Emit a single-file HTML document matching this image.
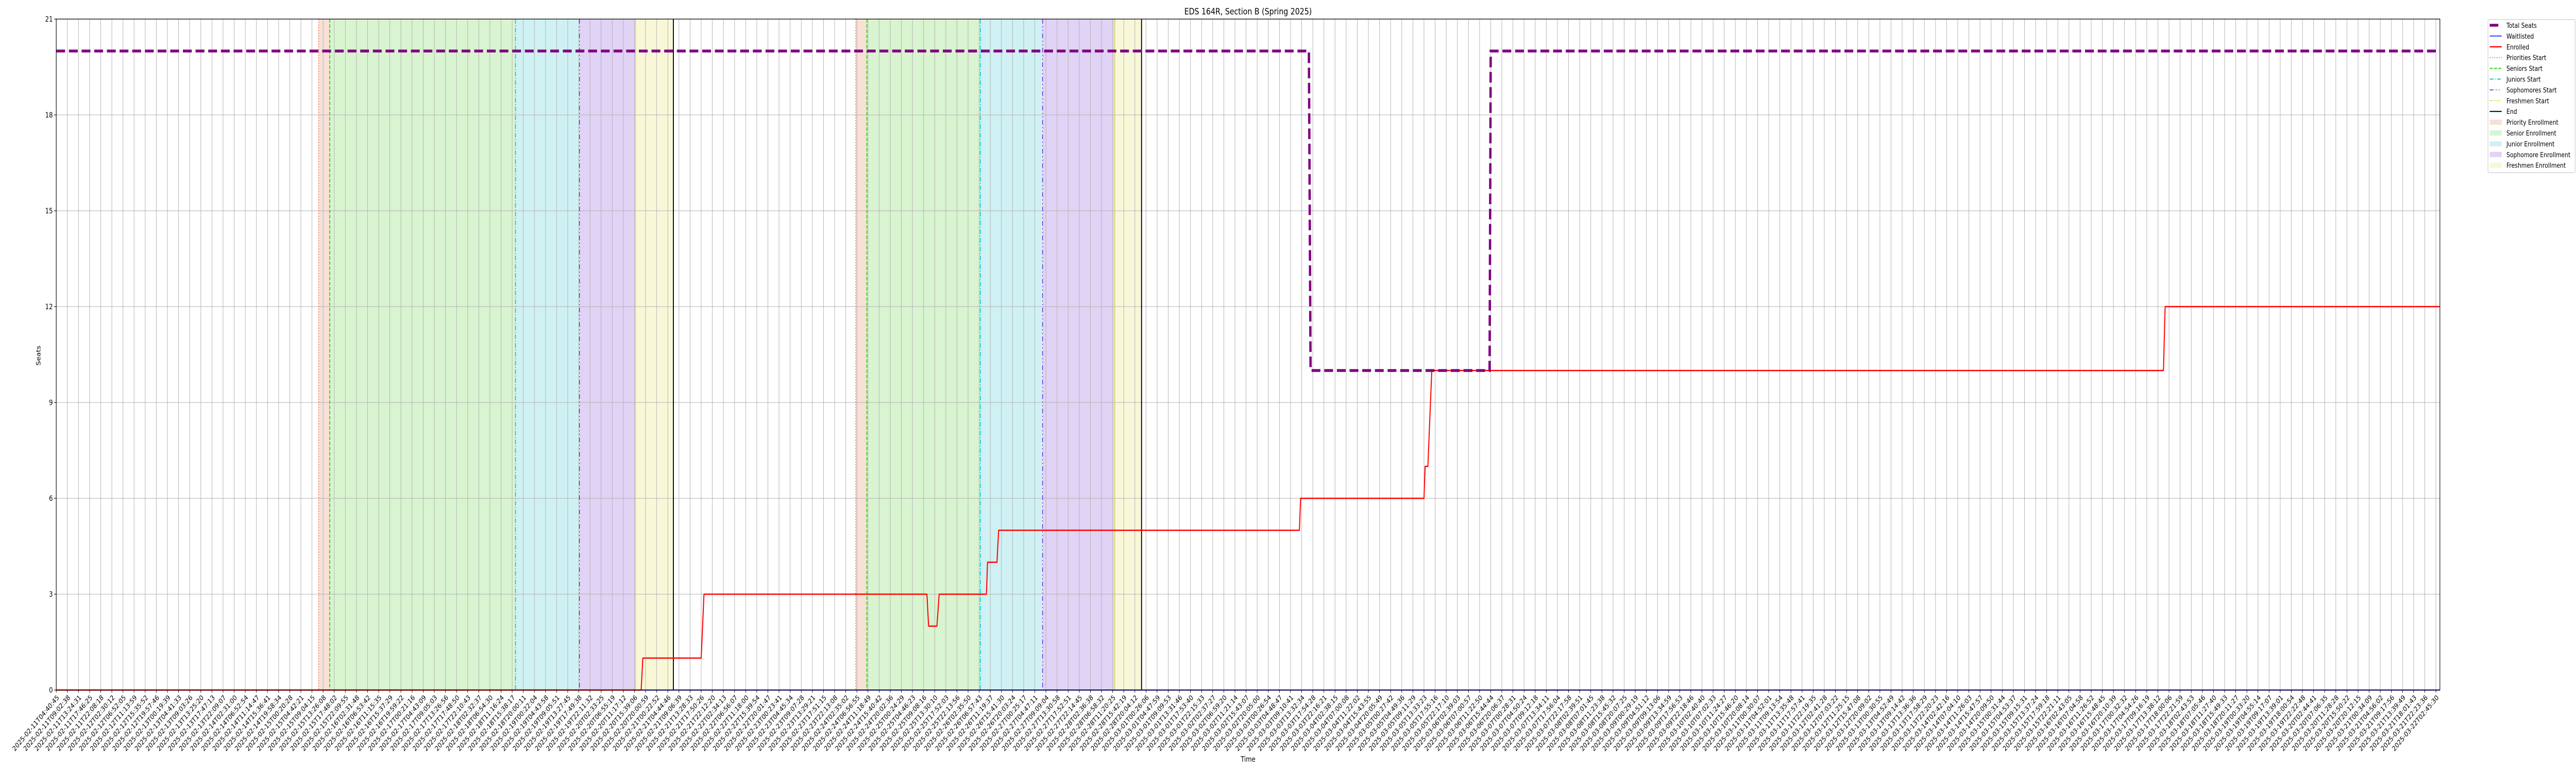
<!DOCTYPE html>
<html><head><meta charset="utf-8"><style>
html,body{margin:0;padding:0;background:#fff;width:100vw;height:100vh;overflow:hidden;}
svg{display:block;font-family:"DejaVu Sans","Liberation Sans",sans-serif;overflow:hidden;width:100vw;height:100vh;}
</style></head><body>
<svg id="chart" viewBox="0 0 6000 1500" preserveAspectRatio="none" xmlns="http://www.w3.org/2000/svg">
<text x="2907" y="28" font-size="17" text-anchor="middle" fill="#000">EDS 164R, Section B (Spring 2025)</text>
<text x="0" y="0" font-size="14" text-anchor="middle" transform="translate(94,690) rotate(-90)">Seats</text>
<text x="2907" y="1478" font-size="14" text-anchor="middle">Time</text>
<g id="shades"></g><g id="grid"></g><g id="phaselines"></g><g id="series"></g><g id="axes"></g><g id="legend"></g>
</svg>
<script>
// ---- data ----
const tickStart = Date.UTC(2025,1,11,4,40,45);
const tickEnd = Date.UTC(2025,2,22,2,45,30);
const tickCount = 215;
const yTicks = [0,3,6,9,12,15,18,21];
const prioStart = [23.6, 71.9];
const seniorStart = [24.6, 72.9];
const juniorStart = [41.3, 83.1];
const sophStart = [47.05, 88.7];
const freshStart = [52.1, 95.2];
const endTimes = [55.5, 97.6];
const seatsX = [0, 112.65, 112.8, 128.9, 129.0, 214.36];
const seatsY = [20, 20, 10, 10, 20, 20];
const waitX = [0, 214.36];
const waitY = [0, 0];
const enrolledX = [0,52.6,52.75,58.0,58.25,78.3,78.45,79.2,79.4,83.65,83.75,84.6,84.75,111.8,111.9,123.0,123.1,123.35,123.7,189.5,189.65,214.36];
const enrolledY = [0,0,1,1,3,3,2,2,3,3,4,4,5,5,6,6,7,7,10,10,12,12];

// ---- scales ----
const L=131,R=5683,T=37,B=1339,XMAX=214.36,YMAX=21;
const sx=v=>L+(R-L)*v/XMAX;
const sy=v=>B-(B-T)*v/YMAX;
const NS='http://www.w3.org/2000/svg';
function mk(tag,attrs,parent){const e=document.createElementNS(NS,tag);for(const k in attrs)e.setAttribute(k,attrs[k]);parent.appendChild(e);return e;}
const pad=n=>String(n).padStart(2,'0');
function fmt(ms){const d=new Date(ms);return d.getUTCFullYear()+'-'+pad(d.getUTCMonth()+1)+'-'+pad(d.getUTCDate())+'T'+pad(d.getUTCHours())+':'+pad(d.getUTCMinutes())+':'+pad(d.getUTCSeconds());}
const tickLabels=[];
for(let i=0;i<tickCount;i++)tickLabels.push(fmt(tickStart+(tickEnd-tickStart)*i/(tickCount-1)));

const gS=document.getElementById('shades'),gG=document.getElementById('grid'),gP=document.getElementById('phaselines'),gSe=document.getElementById('series'),gA=document.getElementById('axes'),gL=document.getElementById('legend');

// shades
const shadeDefs=[[prioStart,seniorStart,'#f7e0d6','priority-enrollment-shade'],[seniorStart,juniorStart,'#d9f4d0','senior-enrollment-shade'],[juniorStart,sophStart,'#cff1f3','junior-enrollment-shade'],[sophStart,freshStart,'#e0d3f5','sophomore-enrollment-shade'],[freshStart,endTimes,'#f8f8d9','freshmen-enrollment-shade']];
shadeDefs.forEach(d=>{for(let k=0;k<d[0].length;k++){
  const r=mk('rect',{x:sx(d[0][k]),y:T,width:sx(d[1][k])-sx(d[0][k]),height:B-T,fill:d[2]},gS);
  
  
}});
// grid
tickLabels.forEach((lab,i)=>{
  const x=sx(i);
  const g=mk('line',{x1:x,x2:x,y1:T,y2:B,stroke:'#b0b0b0','stroke-width':1.1},gG);
  
  
  const tk=mk('line',{x1:x,x2:x,y1:B,y2:B+5,stroke:'#000','stroke-width':1.1},gA);
  
  
  const t=mk('text',{x:x+4,y:B+12,'font-size':13.5,'text-anchor':'end','dominant-baseline':'central',transform:'rotate(-45 '+(x+4)+' '+(B+12)+')'},gA);
  t.textContent=lab;
  
  
});
yTicks.forEach(v=>{
  const y=sy(v);
  const g=mk('line',{x1:L,x2:R,y1:y,y2:y,stroke:'#b0b0b0','stroke-width':1.1},gG);
  
  
  const tk=mk('line',{x1:L-5,x2:L,y1:y,y2:y,stroke:'#000','stroke-width':1.1},gA);
  
  
  const t=mk('text',{x:L-8,y:y+5,'font-size':14,'text-anchor':'end'},gA);
  t.textContent=v;
  
  
});
// phase lines
const lineDefs=[[prioStart,'#f05a28','2,3.3',1.6,'priorities-start-line'],[seniorStart,'#33cc11','7,3',2,'seniors-start-line'],[juniorStart,'#11c8d8','9,3,2,3',2,'juniors-start-line'],[sophStart,'#6622dd','9,5,2,5,2,5',1.6,'sophomores-start-line'],[freshStart,'#dddd33','none',1.6,'freshmen-start-line'],[endTimes,'#000','none',2.2,'end-line']];
lineDefs.forEach(d=>{d[0].forEach(v=>{
  const x=sx(v);
  const l=mk('line',{x1:x,x2:x,y1:T,y2:B,stroke:d[1],'stroke-width':d[3],'stroke-dasharray':d[2]},gP);
  
  
});});
// series
function pts(xs,ys){return xs.map((x,i)=>sx(x)+','+sy(ys[i])).join(' ');}
const pw=mk('polyline',{points:pts(waitX,waitY),fill:'none',stroke:'#0000ff','stroke-width':2},gSe);


const pe=mk('polyline',{points:pts(enrolledX,enrolledY),fill:'none',stroke:'#ff0000','stroke-width':2.4,'stroke-linejoin':'round'},gSe);


const ps=mk('polyline',{points:pts(seatsX,seatsY),fill:'none',stroke:'#800080','stroke-width':5.5,'stroke-dasharray':'20.6,8.9'},gSe);


// frame
const fr=mk('rect',{x:L,y:T,width:R-L,height:B-T,fill:'none',stroke:'#000','stroke-width':1.3},gA);


// legend
const lb=mk('rect',{x:5795,y:38,width:203,height:297,rx:3,fill:'#fff','fill-opacity':0.8,stroke:'#cccccc','stroke-width':1.2},gL);


const legItems=[['Total Seats','line','#800080',5.5,'none'],['Waitlisted','line','#0000ff',1.5,'none'],['Enrolled','line','#ff0000',2.4,'none'],['Priorities Start','line','#f05a28',1.6,'2,3.3'],['Seniors Start','line','#33cc11',2,'7,3'],['Juniors Start','line','#11c8d8',2,'9,3,2,3'],['Sophomores Start','line','#6622dd',1.6,'9,5,2,5,2,5'],['Freshmen Start','line','#dddd33',1.6,'6,2,2,2,2,2'],['End','line','#000',2,'none'],['Priority Enrollment','patch','#f7e0d6'],['Senior Enrollment','patch','#d9f4d0'],['Junior Enrollment','patch','#cff1f3'],['Sophomore Enrollment','patch','#e0d3f5'],['Freshmen Enrollment','patch','#f8f8d9']];
legItems.forEach((it,i)=>{
  const y=49+i*20.9;
  if(it[1]==='line'){
    const w=it[0]==='Total Seats'?20:28;
    const l=mk('line',{x1:5799,x2:5799+w,y1:y,y2:y,stroke:it[2],'stroke-width':it[3],'stroke-dasharray':it[4]},gL);
    
    
  } else {
    const r=mk('rect',{x:5799,y:y-5,width:28,height:10,fill:it[2]},gL);
    
    
  }
  const t=mk('text',{x:5838,y:y+5,'font-size':13},gL);
  t.textContent=it[0];
  
  
});
</script>
</body></html>
